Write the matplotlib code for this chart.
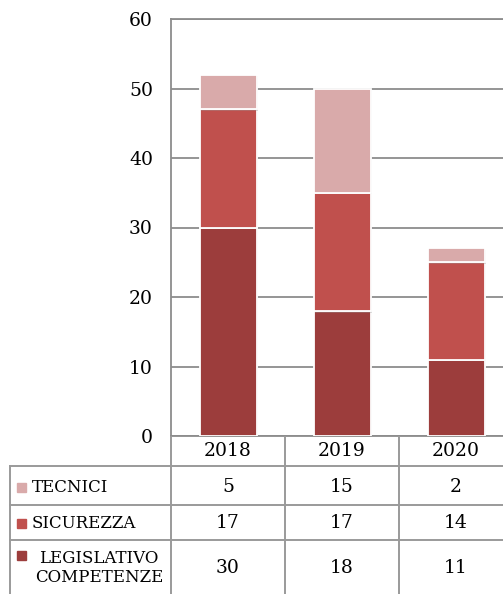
import matplotlib
matplotlib.use("Agg")
import matplotlib.pyplot as plt
import matplotlib.patheffects as pe
import numpy as np

years = ["2018", "2019", "2020"]
series_names = ["TECNICI", "SICUREZZA", "LEGISLATIVO\nCOMPETENZE"]
tecnici = [5, 15, 2]
sicurezza = [17, 17, 14]
legislativo = [30, 18, 11]
colors = {"TECNICI": "#D9AAAA", "SICUREZZA": "#C0504D", "LEGISLATIVO\nCOMPETENZE": "#9C3D3C"}
yticks = [0, 10, 20, 30, 40, 50, 60]

FONT = "DejaVu Serif"
FS = 13.5
FS_LBL = 12
GRID = "#8C8C8C"

W, H = 503, 594
fig = plt.figure(figsize=(W / 100, H / 100), dpi=100)

# main axes in pixel geometry
L, R, T, B = 171, 513, 19, 436
ax = fig.add_axes([L / W, 1 - B / H, (R - L) / W, (B - T) / H])
x = np.arange(len(years))
shadow = [pe.SimplePatchShadow(offset=(1.2, -1.2), shadow_rgbFace="#999999", alpha=0.35), pe.Normal()]
b1 = ax.bar(x, legislativo, width=0.5, color=colors[series_names[2]], edgecolor="white", linewidth=1.3, zorder=3)
b2 = ax.bar(x, sicurezza, width=0.5, bottom=legislativo, color=colors[series_names[1]], edgecolor="white", linewidth=1.3, zorder=3)
bot3 = np.array(legislativo) + np.array(sicurezza)
b3 = ax.bar(x, tecnici, width=0.5, bottom=bot3, color=colors[series_names[0]], edgecolor="white", linewidth=1.3, zorder=3)
for bars in (b1, b2, b3):
    for p in bars:
        p.set_path_effects(shadow)

ax.set_xlim(-0.5, len(years) - 0.5)
ax.set_ylim(0, 60)
ax.set_yticks(yticks)
ax.set_yticklabels([str(t) for t in yticks], fontfamily=FONT, fontsize=FS)
ax.tick_params(axis="y", length=0, pad=13)
ax.set_xticks([])
ax.yaxis.grid(True, color=GRID, linewidth=1.3, zorder=0)
ax.set_axisbelow(True)
for s in ["left", "bottom", "top"]:
    ax.spines[s].set_color(GRID)
    ax.spines[s].set_linewidth(1.3)
ax.spines["right"].set_visible(False)

# table overlay in pixel coords
tab = fig.add_axes([0, 0, 1, 1], zorder=5)
tab.set_xlim(0, W)
tab.set_ylim(H, 0)
tab.axis("off")
TC = "#9A9A9A"
lw = 1.4
col_edges = [171, 285, 399, 513]
row_edges = [466, 505, 540, 600]
for xe in col_edges:
    tab.plot([xe, xe], [B, H + 5], color=TC, lw=lw, solid_capstyle="butt")
tab.plot([10, 10], [466, H + 5], color=TC, lw=lw)
for ye in row_edges[:3]:
    tab.plot([10, W + 5], [ye, ye], color=TC, lw=lw)

# header
for i, yr in enumerate(years):
    cx = (col_edges[i] + col_edges[i + 1]) / 2
    tab.text(cx, 451, yr, ha="center", va="center", fontfamily=FONT, fontsize=FS)

rows = [tecnici, sicurezza, legislativo]
row_centers = [487, 523, 568]
for r, (name, vals) in enumerate(zip(series_names, rows)):
    cy = row_centers[r]
    sq_y = cy if r < 2 else 555
    tab.add_patch(plt.Rectangle((17, sq_y - 4.5), 9, 9, color=colors[name]))
    if r < 2:
        tab.text(32, cy, name, ha="left", va="center", fontfamily=FONT, fontsize=FS_LBL)
    else:
        tab.text(99, cy, name, ha="center", va="center", fontfamily=FONT, fontsize=FS_LBL,
                 linespacing=1.2, multialignment="center")
    for i, v in enumerate(vals):
        cx = (col_edges[i] + col_edges[i + 1]) / 2
        tab.text(cx, cy, str(v), ha="center", va="center", fontfamily=FONT, fontsize=FS)

fig.savefig("out.png", dpi=100)
